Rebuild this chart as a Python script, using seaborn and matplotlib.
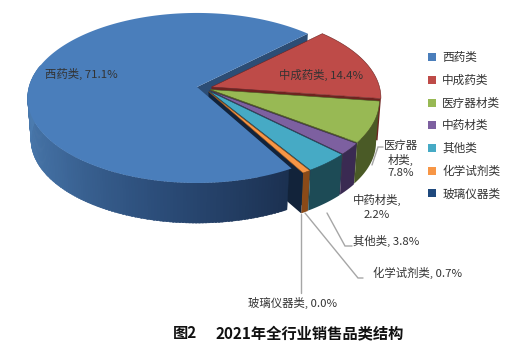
import numpy as np
import matplotlib
matplotlib.use("Agg")
import matplotlib.pyplot as plt
from matplotlib.patches import Patch
import seaborn as sns

categories = ["西药类", "中成药类", "医疗器材类", "中药材类", "其他类", "化学试剂类", "玻璃仪器类"]
shares = [71.1, 14.4, 7.8, 2.2, 3.8, 0.7, 0.0]
title_text = "2021年全行业销售品类结构"
fig_label = "图2"

# office-style colours, top faces and side walls
top_colors = sns.color_palette(["#4a7ebb", "#be4b48", "#98b954", "#7d60a0", "#46aac5", "#f79646", "#1f497d"])
wall_colors = ["#2c4d75", "#6e2320", "#4a5a26", "#3a2a52", "#1d4b56", "#8a4a18", "#12233a"]

# exploded slices, where each apex sits on the canvas
apex_x = [197, 211.5, 210, 209.5, 209, 208.5, 208]
apex_y = [87, 87, 89.5, 90.5, 91, 91.5, 92]

START = -60
A, B, K = 168, 83.6, 0.129
H = 42

sns.set_theme(style="white")
plt.rcParams["font.family"] = ["Noto Sans CJK SC", "DejaVu Sans"]


def project(theta, depth, i):
    # circle under a mild perspective, depth 0 is the top face and 1 the floor
    t = np.radians(theta)
    w = 1 + K * np.sin(t)
    scale = 1 - 0.02 * depth
    x = apex_x[i] + A * np.cos(t) / w * scale
    y = apex_y[i] - B * np.sin(t) / w * scale + H * depth
    return x, y


def apex(i, depth):
    return apex_x[i], apex_y[i] + H * depth


fig = plt.figure(figsize=(5.28, 3.59), dpi=100)
ax = fig.add_axes([0, 0, 1, 1])
ax.set(xlim=(0, 528), ylim=(359, 0))
ax.axis("off")

ends = START - np.cumsum(shares) * 3.6
starts = np.r_[START, ends[:-1]]
arcs = [np.linspace(s, e, max(int(abs(e - s)), 2)) for s, e in zip(starts, ends)]

# back face of the big slice, only a sliver stays visible
p, q = project(ends[0], 0, 0), project(ends[0], 1, 0)
ax.fill(*zip(apex(0, 0), p, q, apex(0, 1)), color=wall_colors[0], lw=0)

# outer walls and separators, back to front
for i in range(1, 6):
    if i > 1:
        th = arcs[i]
        top = np.array([project(a, 0, i) for a in th])
        bot = np.array([project(a, 1, i) for a in th])
        ax.fill(*np.vstack([top, bot[::-1]]).T, color=wall_colors[i], lw=0)
    if i < 5:
        p, q = project(ends[i], 0, i), project(ends[i], 1, i)
        ax.fill(*zip(apex(i, 0), p, q, apex(i, 1)), color=wall_colors[i], lw=0)

# cut face under the small slices
last = 5
p, q = project(ends[last], 0, last), project(ends[last], 1, last)
ax.fill(*zip(apex(last, 0), p, q, apex(last, 1)), color=wall_colors[6], lw=0)

for i in range(1, 6):
    top = np.array([apex(i, 0)] + [project(a, 0, i) for a in arcs[i]])
    ax.fill(*top.T, facecolor=top_colors[i], edgecolor=wall_colors[i], lw=0.4)

# big slice, wall shaded from left to right
shades = sns.blend_palette(["#1b3050", "#2b4c78", "#3f6a9c", "#4c7cb0"], 121)
for a in np.arange(START - 1, START - 135, -1.0):
    idx = int(np.clip(-(a - START), 0, 120))
    quad = [project(a, 0, 0), project(a - 1.5, 0, 0), project(a - 1.5, 1, 0), project(a, 1, 0)]
    ax.fill(*zip(*quad), color=shades[idx], lw=0.3)
top = np.array([apex(0, 0)] + [project(a, 0, 0) for a in arcs[0]])
ax.fill(*top.T, color=top_colors[0], lw=0)

# leader lines
leader = dict(color="#a6a6a6", lw=1, solid_joinstyle="miter")
ax.plot([372, 378, 383], [165, 147, 147], **leader)
ax.plot([327, 345, 352], [213, 246, 246], **leader)
ax.plot([305, 358, 363], [213, 278, 278], **leader)
ax.plot([301, 301], [214, 293], **leader)

# data labels
labels = [f"{c}, {v:.1f}%" for c, v in zip(categories, shares)]
txt = dict(fontsize=8.2, color="#333333", ha="center", va="center")
ax.text(81, 74, labels[0], **txt)
ax.text(321, 75, labels[1], **txt)
ax.text(401, 159, "医疗器\n材类,\n7.8%", linespacing=1.3, **txt)
ax.text(377, 207, "中药材类,\n2.2%", linespacing=1.45, **txt)
ax.text(386, 241, labels[4], **txt)
ax.text(418, 273, labels[5], **txt)
ax.text(293, 303, labels[6], **txt)

handles = [Patch(facecolor=c, edgecolor="none") for c in top_colors]
ax.legend(handles, categories, loc="upper left", bbox_to_anchor=(0.81, 0.857), frameon=False,
          fontsize=8.4, labelcolor="#333333", handlelength=0.7, handleheight=0.7,
          handletextpad=0.55, labelspacing=0.83, borderpad=0, borderaxespad=0)

# caption
ax.text(173, 333, fig_label, fontsize=11, fontweight="bold", color="#111111", ha="left", va="center")
ax.text(404, 333, title_text, fontsize=11, fontweight="bold", color="#111111", ha="right", va="center")

fig.savefig("out.png", dpi=100, facecolor="white")
